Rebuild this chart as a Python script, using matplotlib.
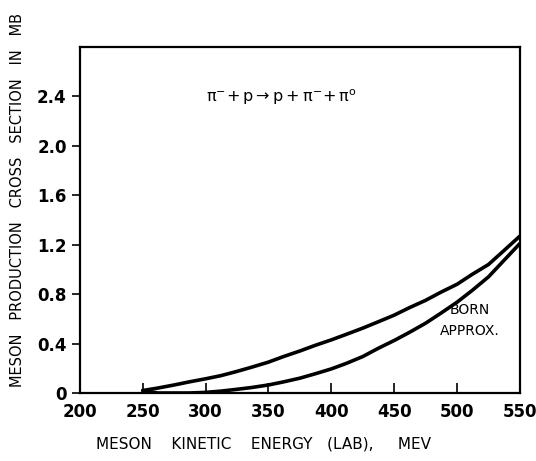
import matplotlib.pyplot as plt

# meson kinetic energy (lab), MeV
energy = [250, 262, 275, 287, 300, 312, 325, 337, 350, 362, 375, 387, 400,
          412, 425, 437, 450, 462, 475, 487, 500, 512, 525, 537, 550]
# pi- + p -> p + pi- + pi0 cross section, mb
upper = [0.02, 0.04, 0.065, 0.09, 0.115, 0.14, 0.175, 0.21, 0.25, 0.295, 0.34, 0.385, 0.43,
         0.475, 0.525, 0.575, 0.63, 0.69, 0.75, 0.815, 0.88, 0.96, 1.04, 1.15, 1.27]
# Born approximation
born = [0.02, 0.0, 0.0, 0.0, 0.005, 0.015, 0.03, 0.045, 0.065, 0.09, 0.12, 0.155, 0.195,
        0.24, 0.295, 0.36, 0.425, 0.49, 0.565, 0.645, 0.735, 0.83, 0.94, 1.07, 1.21]

xticks = [200, 250, 300, 350, 400, 450, 500, 550]
yticks = [0, 0.4, 0.8, 1.2, 1.6, 2.0, 2.4]
ytick_labels = ['0', '0.4', '0.8', '1.2', '1.6', '2.0', '2.4']

plt.rcParams['font.family'] = 'DejaVu Sans'
plt.rcParams['mathtext.default'] = 'regular'

fig = plt.figure(figsize=(5.36, 4.61), dpi=100)
ax = fig.add_axes([0.149, 0.1475, 0.821, 0.7505])

ax.plot(energy, upper, color='black', lw=2.6, solid_capstyle='round', solid_joinstyle='round')
ax.plot(energy, born, color='black', lw=2.6, solid_capstyle='round', solid_joinstyle='round')

ax.set_xlim(200, 550)
ax.set_ylim(0, 2.8)
ax.set_xticks(xticks)
ax.set_yticks(yticks)
ax.set_yticklabels(ytick_labels)
ax.tick_params(axis='x', direction='in', length=7, width=1.2, labelsize=12, pad=7)
ax.tick_params(axis='y', direction='out', length=6, width=1.2, labelsize=12)
for lbl in ax.get_xticklabels() + ax.get_yticklabels():
    lbl.set_fontweight('bold')
for s in ax.spines.values():
    s.set_linewidth(1.6)

ax.set_xlabel('MESON    KINETIC    ENERGY   (LAB),     MEV', fontsize=11, labelpad=11, x=0.418)
ax.set_ylabel('MESON   PRODUCTION   CROSS   SECTION   IN   MB', fontsize=10.5, labelpad=9, y=0.558)

ax.text(0.457, 0.855, r'$\pi^{-}\!+ p \rightarrow p + \pi^{-}\!+ \pi^{o}$',
        transform=ax.transAxes, ha='center', va='center', fontsize=11.5)
ax.text(0.885, 0.21, 'BORN\nAPPROX.', transform=ax.transAxes, ha='center',
        va='center', fontsize=10, linespacing=1.6)

fig.savefig('out.png', dpi=100)
